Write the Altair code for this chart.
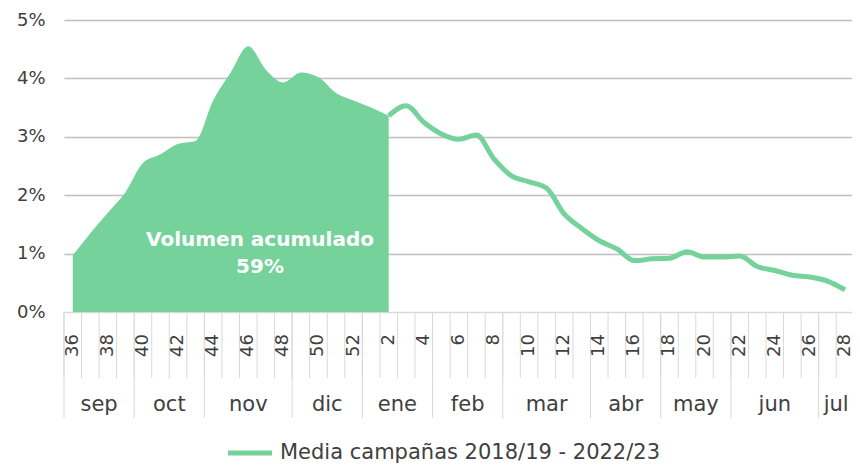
import altair as alt
import pandas as pd

# ---------------- data ----------------
weeks = [36, 37, 38, 39, 40, 41, 42, 43, 44, 45, 46, 47, 48, 49, 50, 51, 52,
         1, 2, 3, 4, 5, 6, 7, 8, 9, 10, 11, 12, 13, 14, 15, 16, 17, 18, 19, 20,
         21, 22, 23, 24, 25, 26, 27, 28]
values = [0.97, 1.35, 1.70, 2.05, 2.55, 2.70, 2.88, 2.93, 3.62, 4.10, 4.55, 4.15,
          3.93, 4.10, 4.02, 3.75, 3.62, 3.50, 3.36, 3.53, 3.25, 3.05, 2.96, 3.03,
          2.62, 2.33, 2.23, 2.12, 1.68, 1.43, 1.22, 1.08, 0.88, 0.91, 0.92, 1.03,
          0.94, 0.94, 0.96, 0.78, 0.71, 0.63, 0.60, 0.53, 0.38]
months = ["sep", "oct", "nov", "dic", "ene", "feb", "mar", "abr", "may", "jun", "jul"]
month_weeks = [4, 4, 5, 4, 4, 4, 5, 4, 4, 5, 2]
cum_last_week = 2
annotation_title = "Volumen acumulado"
annotation_value = "59%"
legend_label = "Media campañas 2018/19 - 2022/23"
y_ticks = [0, 1, 2, 3, 4, 5]

# ---------------- style ----------------
FONT = "DejaVu Sans"
GREEN = "#75D29B"
TXT = "#404040"
W, H = 788, 292

idx = list(range(len(weeks)))
df = pd.DataFrame({"idx": idx, "week": weeks, "value": values})
cut = weeks.index(cum_last_week)
df_area = df[df.idx <= cut]
df_line = df[df.idx >= cut]

bounds = pd.DataFrame({"b": [i - 0.5 for i in idx]})

starts, s = [], 0
for n in month_weeks:
    starts.append(s)
    s += n
month_df = pd.DataFrame({
    "month": months,
    "b": [st - 0.5 for st in starts],
    "center": [st + (n - 1) / 2 for st, n in zip(starts, month_weeks)],
})

xs = alt.Scale(domain=[-0.5, 44.4], nice=False, zero=False)
ys = alt.Scale(domain=[0, 5], nice=False, zero=True)

yaxis = alt.Axis(
    values=y_ticks, labelExpr="datum.value + '%'", grid=True,
    gridColor={"condition": {"test": "datum.value === 0", "value": "#d9d9d9"}, "value": "#bfbfbf"},
    gridWidth=1.6, domain=False, ticks=False, labelPadding=19,
    labelFontSize=18, labelColor=TXT, labelFont=FONT, title=None,
)

area = alt.Chart(df_area).mark_area(color=GREEN, interpolate="monotone").encode(
    x=alt.X("idx:Q", scale=xs, axis=None),
    y=alt.Y("value:Q", scale=ys, axis=yaxis),
)

line = alt.Chart(df_line).mark_line(color=GREEN, strokeWidth=5, interpolate="monotone").encode(
    x=alt.X("idx:Q", scale=xs, axis=None),
    y=alt.Y("value:Q", scale=ys),
)

week_rules = alt.Chart(bounds).mark_rule(color="#d9d9d9", strokeWidth=1).encode(
    x=alt.X("b:Q", scale=xs), y=alt.value(H), y2=alt.value(H + 66),
)

month_rules = alt.Chart(month_df).mark_rule(color="#d9d9d9", strokeWidth=1).encode(
    x=alt.X("b:Q", scale=xs), y=alt.value(H), y2=alt.value(H + 106),
)

week_labels = alt.Chart(df).transform_filter("datum.week % 2 == 0").mark_text(
    angle=270, align="right", baseline="middle", fontSize=18, font=FONT, color=TXT,
).encode(
    x=alt.X("idx:Q", scale=xs), y=alt.value(H + 22), text="week:N",
)

month_labels = alt.Chart(month_df).mark_text(
    baseline="middle", align="center", fontSize=21, font=FONT, color=TXT,
).encode(
    x=alt.X("center:Q", scale=xs), y=alt.value(H + 93), text="month:N",
)

ann_df = pd.DataFrame({"title": [annotation_title], "value": [annotation_value]})
ann_title = alt.Chart(ann_df).mark_text(
    align="center", baseline="middle", fontSize=20, fontWeight="bold", font=FONT, color="white",
).encode(x=alt.value(196), y=alt.value(220), text="title:N")
ann_value = alt.Chart(ann_df).mark_text(
    align="center", baseline="middle", fontSize=20, fontWeight="bold", font=FONT, color="white",
).encode(x=alt.value(196), y=alt.value(247), text="value:N")

leg_df = pd.DataFrame({"label": [legend_label]})
legend_line = alt.Chart(leg_df).mark_rule(color=GREEN, strokeWidth=5).encode(
    x=alt.value(164), x2=alt.value(208), y=alt.value(433),
)
legend_text = alt.Chart(leg_df).mark_text(
    align="left", baseline="middle", fontSize=21, font=FONT, color=TXT,
).encode(
    x=alt.value(216), y=alt.value(433), text="label:N",
)

chart = alt.layer(
    area, line, week_rules, month_rules, week_labels, month_labels,
    ann_title, ann_value, legend_line, legend_text,
).properties(
    width=W, height=H,
    autosize=alt.AutoSizeParams(type="none"),
    padding={"left": 56, "top": 12, "right": 0, "bottom": 152},
).configure_view(stroke=None)

chart.save("out.html", embed_options={"renderer": "svg", "actions": False})
